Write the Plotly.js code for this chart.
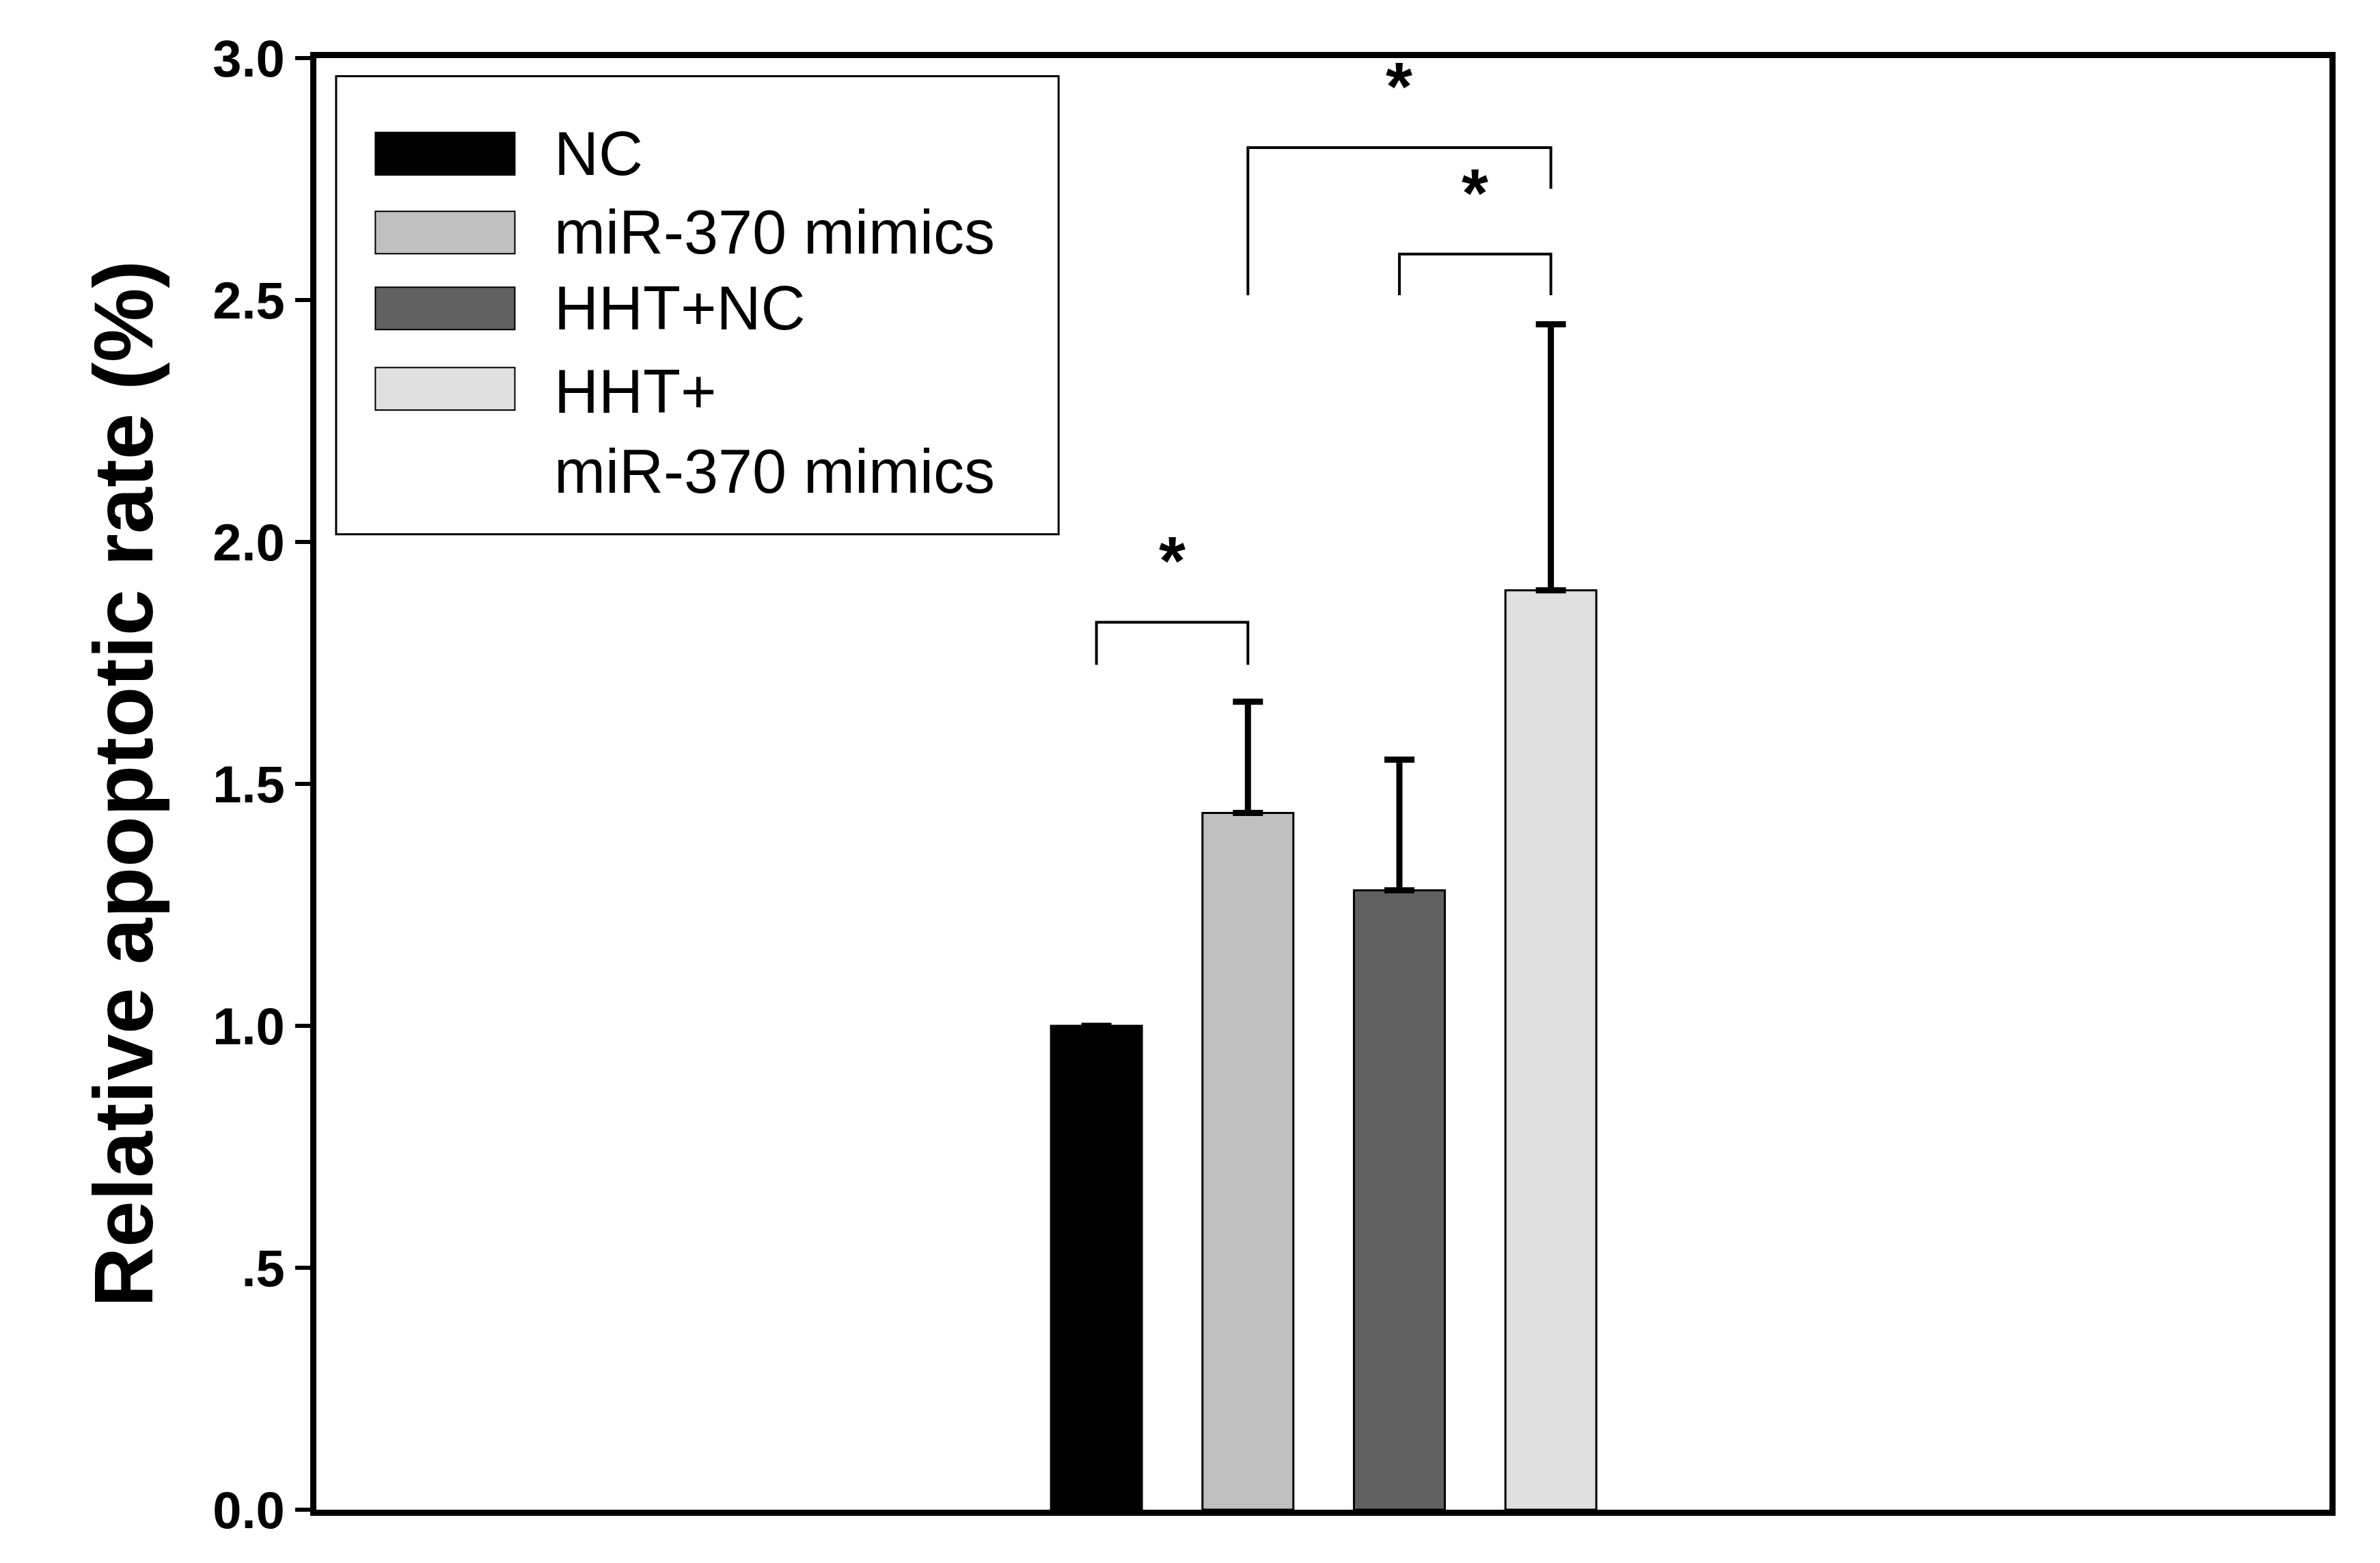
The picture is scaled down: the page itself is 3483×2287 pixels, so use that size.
<!DOCTYPE html>
<html>
<head>
<meta charset="utf-8">
<script src="https://cdn.plot.ly/plotly-3.0.1.min.js"></script>
<style>body{margin:0;background:#fff}</style>
</head>
<body>
<div id="graphDiv" style="width:3483px;height:2287px"></div>
<script>
// data *************************************
const groups = ['NC', 'miR-370 mimics', 'HHT+NC', 'HHT+<br>miR-370 mimics'];
const xPos = [0, 1, 2, 3];
const rates = [1.0, 1.44, 1.28, 1.90];
const errUp = [null, 0.23, 0.27, 0.55];
const barColors = ['#000000', '#c0c0c0', '#606060', '#e0e0e0'];

const yTickVals = [0, 0.5, 1, 1.5, 2, 2.5, 3];
const yTickText = ['0.0', '.5', '1.0', '1.5', '2.0', '2.5', '3.0'];

// significance brackets: [x1, x2, leftBottom, rightBottom, top]
const brackets = [
  [0, 1, 1.746, 1.746, 1.834],
  [1, 3, 2.51, 2.73, 2.815],
  [2, 3, 2.51, 2.51, 2.595]
];
const starY = [1.88, 2.86, 2.64];

const graphDiv = document.getElementById('graphDiv');
const F = 'Arial, "Liberation Sans", sans-serif';

var shapes = [];
var annotations = [];

brackets.forEach(function(b, i) {
  shapes.push({type: 'path', xref: 'x', yref: 'y',
    path: 'M' + b[0] + ',' + b[2] + ' L' + b[0] + ',' + b[4] + ' L' + b[1] + ',' + b[4] + ' L' + b[1] + ',' + b[3],
    line: {color: '#000', width: 4}});
  annotations.push({xref: 'x', yref: 'y', x: (b[0] + b[1]) / 2, y: starY[i], yanchor: 'bottom',
    text: '<b>*</b>', showarrow: false, font: {family: F, size: 100, color: '#000'}});
});

// legend drawn by hand
shapes.push({type: 'rect', xref: 'paper', yref: 'paper', x0: 0.0098, x1: 0.3687, y0: 0.672, y1: 0.9875,
  line: {color: '#000', width: 3}, fillcolor: '#fff'});
const rowY = [101, 153, 203, 256];
groups.forEach(function(g, i) {
  var yc = (995 - rowY[i]) / 957;
  var h = 14 / 957;
  shapes.push({type: 'rect', xref: 'paper', yref: 'paper', x0: 0.0293, x1: 0.0986, y0: yc - h, y1: yc + h,
    line: {color: '#000', width: 2}, fillcolor: barColors[i]});
  annotations.push({xref: 'paper', yref: 'paper', x: 0.1174, y: yc, xanchor: 'left',
    yanchor: i == 3 ? 'top' : 'middle', yshift: i == 3 ? 48 : 0,
    text: g, showarrow: false, align: 'left',
    font: {family: F, size: 90, color: '#000'}});
});

Plotly.newPlot(graphDiv, [{
  type: 'bar',
  x: xPos,
  y: rates,
  width: 0.6,
  marker: {color: barColors, line: {color: '#000', width: 3}},
  error_y: {type: 'data', symmetric: false, array: errUp, arrayminus: [null, 0, 0, 0],
            color: '#000', thickness: 9, width: 22},
  showlegend: false
}], {
  width: 3483, height: 2287,
  margin: {l: 463, r: 74, t: 85, b: 78},
  paper_bgcolor: '#fff', plot_bgcolor: '#fff',
  xaxis: {range: [-5.15, 8.14], showticklabels: false, ticks: '', showgrid: false, zeroline: false,
          showline: true, linecolor: '#000', linewidth: 9, mirror: true},
  yaxis: {range: [0, 3], tickvals: yTickVals, ticktext: yTickText, ticks: 'outside', ticklen: 22,
          tickwidth: 6, tickcolor: '#000', showgrid: false, zeroline: false,
          showline: true, linecolor: '#000', linewidth: 9, mirror: true,
          tickfont: {family: F, size: 76, color: '#000', weight: 'bold'},
          title: {text: 'Relative apoptotic rate (%)', standoff: 50,
                  font: {family: F, size: 122, color: '#000', weight: 'bold'}}},
  shapes: shapes,
  annotations: annotations
}, {staticPlot: true});
</script>
</body>
</html>
